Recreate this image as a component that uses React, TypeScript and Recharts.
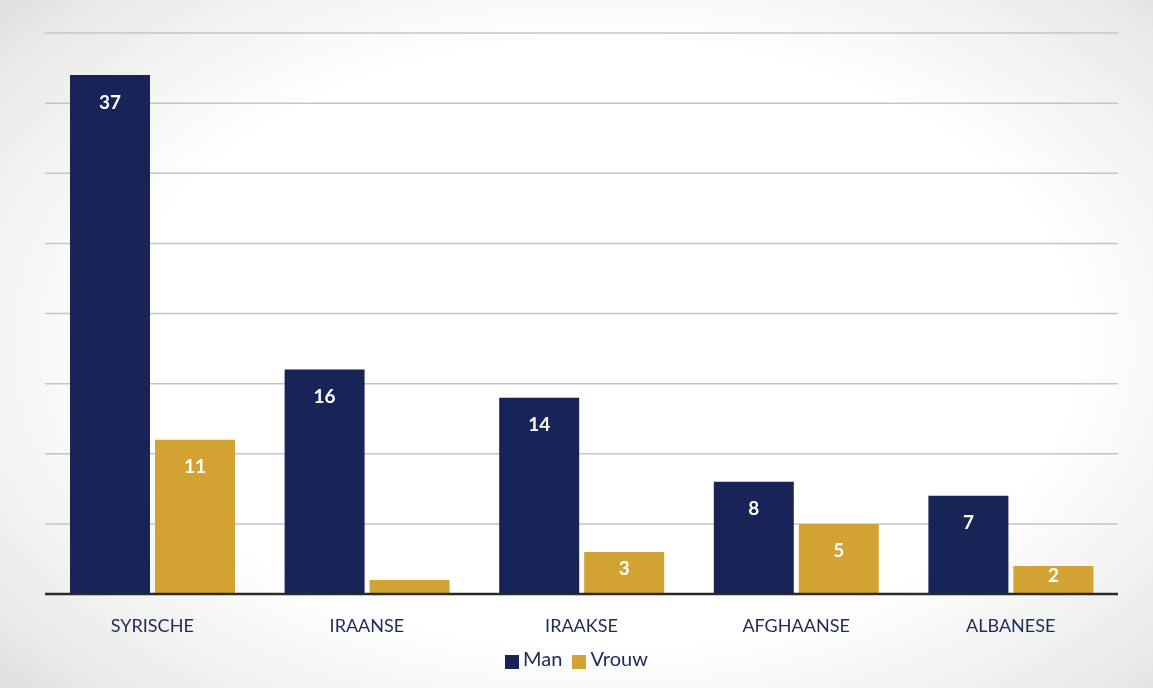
import { BarChart, Bar, XAxis, YAxis, CartesianGrid, Legend, LabelList } from 'recharts';

const categories = ['SYRISCHE', 'IRAANSE', 'IRAAKSE', 'AFGHAANSE', 'ALBANESE'];
const manValues = [37, 16, 14, 8, 7];
const vrouwValues = [11, 1, 3, 5, 2];
const yTicks = [0, 5, 10, 15, 20, 25, 30, 35, 40];

const data = categories.map((name, i) => ({ name, Man: manValues[i], Vrouw: vrouwValues[i] }));

const NAVY = '#182358';
const GOLD = '#d2a233';
const TEXT = '#1c2a5c';

// label inside the top of the bar, pulled up for short bars
const renderValue = (props: any) => {
  const { x, y, width, height, value } = props;
  if (!value || value < 2) return null;
  const dy = Math.min(26, height / 2 - 5);
  return (
    <text
      x={x + width / 2}
      y={y + dy}
      textAnchor="middle"
      dominantBaseline="central"
      fill="#ffffff"
      fontSize={19}
      fontWeight="bold"
    >
      {value}
    </text>
  );
};

export default function App() {
  return (
    <div
      style={{
        position: 'fixed',
        left: 0,
        top: 0,
        width: 1153,
        height: 688,
        background: 'radial-gradient(ellipse 75% 80% at 52% 50%, #ffffff 55%, #e9e9e8 85%, #d6d6d4 100%)',
        fontFamily: 'Lato, "Open Sans", sans-serif',
      }}
    >
      <BarChart
        width={1153}
        height={688}
        data={data}
        margin={{ top: 33, right: 35, left: 45, bottom: 10 }}
        barCategoryGap={25}
        barGap={5}
      >
        <CartesianGrid vertical={false} stroke="#c4c4c4" strokeWidth={1.5} />
        <YAxis hide domain={[0, 40]} ticks={yTicks} />
        <XAxis
          dataKey="name"
          height={52}
          tickLine={false}
          axisLine={{ stroke: '#2a2a2a', strokeWidth: 2.5 }}
          tick={{ fill: TEXT, fontSize: 18 }}
          tickMargin={19}
        />
        <Legend
          verticalAlign="bottom"
          height={32}
          iconType="square"
          iconSize={14}
          formatter={(v: string) => <span style={{ color: TEXT, fontSize: 20 }}>{v}</span>}
        />
        <Bar dataKey="Man" fill={NAVY} isAnimationActive={false}>
          <LabelList dataKey="Man" content={renderValue} />
        </Bar>
        <Bar dataKey="Vrouw" fill={GOLD} isAnimationActive={false}>
          <LabelList dataKey="Vrouw" content={renderValue} />
        </Bar>
      </BarChart>
    </div>
  );
}
